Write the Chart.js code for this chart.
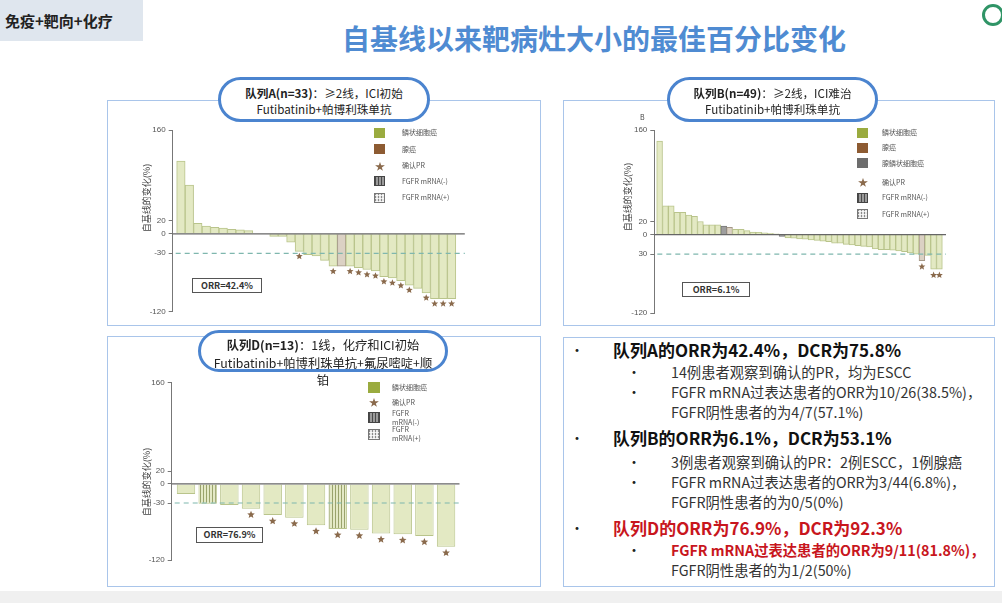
<!DOCTYPE html>
<html>
<head>
<meta charset="utf-8">
<script src="https://cdn.jsdelivr.net/npm/chart.js@4.4.1/dist/chart.umd.min.js"></script>
<style>
  body { margin: 0; width: 1002px; height: 603px; background: #fff; position: relative; overflow: hidden;
         font-family: "Noto Sans CJK SC", "Noto Sans", sans-serif; color: #222; }
  .abs { position: absolute; white-space: nowrap; }
  .tag { left: 0; top: 0; width: 143px; height: 41px; background: #dfe6ee; font-size: 15px; font-weight: bold;
         line-height: 41px; padding-left: 5px; box-sizing: border-box; }
  .title { left: 342px; top: 19px; font-size: 28px; font-weight: bold; color: #4f8bd2; line-height: 38px; }
  .panel { border: 1.5px solid #a9c5ea; box-sizing: border-box; background: #fff; }
  .pill { border: 3px solid #4b84cf; border-radius: 24px; background: #fff; box-sizing: border-box;
          text-align: center; font-size: 11.6px; line-height: 16px; color: #222; }
  .pill b { font-weight: bold; }
  .ylab { font-size: 9px; color: #444; width: 100px; text-align: center; transform: rotate(-90deg); line-height: 12px; }
  .lg { font-size: 7px; color: #555; line-height: 9px; }
  .sw { width: 11px; height: 10px; box-sizing: border-box; }
  .olive { background: #9aab3f; }
  .brown { background: #8d5b32; }
  .grey { background: #6d6d6d; }
  .neg { background: repeating-linear-gradient(90deg, #4a4a4a 0 1px, #9a9a9a 1px 3px); border: 1px solid #444; }
  .pos { background: repeating-linear-gradient(0deg, rgba(255,255,255,.75) 0 1px, transparent 1px 3px),
                     repeating-linear-gradient(90deg, #8a8a8a 0 1px, #e6e6e6 1px 3px); border: 1px solid #777; }
  .st { color: #8a6a4c; font-size: 10px; line-height: 10px; }
  .orr { border: 1px solid #555; font-size: 9px; font-weight: bold; color: #333; text-align: center; box-sizing: border-box; background: #fff; }
  .h { font-size: 17px; font-weight: bold; line-height: 22px; color: #111; }
  .s { font-size: 14.3px; line-height: 19px; color: #333; }
  .red { color: #c8161d; }
  .dot { font-size: 14px; line-height: 19px; color: #222; }
</style>
</head>
<body>

<div class="abs tag">免疫+靶向+化疗</div>
<div class="abs title">自基线以来靶病灶大小的最佳百分比变化</div>
<div class="abs" style="left:982px;top:4px;width:22px;height:22px;border-radius:50%;border:3px solid #2f9466;box-sizing:border-box;"></div>
<div class="abs" style="left:0;top:591px;width:1002px;height:12px;background:#f0f0f0;"></div>

<!-- panel frames -->
<div class="abs panel" style="left:107px;top:100px;width:434px;height:226px;"></div>
<div class="abs panel" style="left:563px;top:100px;width:432px;height:226px;"></div>
<div class="abs panel" style="left:107px;top:336px;width:434px;height:251px;"></div>
<div class="abs panel" style="left:563px;top:337px;width:432px;height:250px;"></div>

<canvas id="chartA" class="abs" width="355" height="198" style="left:120px;top:122px;"></canvas>
<canvas id="chartB" class="abs" width="360" height="202" style="left:600px;top:120px;"></canvas>
<canvas id="chartD" class="abs" width="350" height="198" style="left:120px;top:372px;"></canvas>

<!-- pills -->
<div class="abs pill" style="left:218px;top:77px;width:212px;height:45px;padding-top:5px;"><b>队列A(n=33)</b>：≥2线，ICI初始<br>Futibatinib+帕博利珠单抗</div>
<div class="abs pill" style="left:667px;top:77px;width:211px;height:45px;padding-top:5px;"><b>队列B(n=49)</b>：≥2线，ICI难治<br>Futibatinib+帕博利珠单抗</div>
<div class="abs pill" style="left:198px;top:330px;width:250px;height:42px;padding-top:4px;overflow:visible;line-height:17.5px;font-size:12.3px;"><b>队列D(n=13)</b>：1线，化疗和ICI初始<br>Futibatinib+帕博利珠单抗+氟尿嘧啶+顺<br>铂</div>

<!-- y labels -->
<div class="abs ylab" style="left:97px;top:192px;">自基线的变化(%)</div>
<div class="abs ylab" style="left:578px;top:191px;">自基线的变化(%)</div>
<div class="abs ylab" style="left:97px;top:476px;">自基线的变化(%)</div>
<div class="abs" style="left:640px;top:112px;font-size:7px;color:#444;">B</div>

<!-- legend A -->
<div class="abs sw olive" style="left:374px;top:128px;"></div><div class="abs lg" style="left:402px;top:128px;">鳞状细胞癌</div>
<div class="abs sw brown" style="left:374px;top:144px;"></div><div class="abs lg" style="left:402px;top:145px;">腺癌</div>
<div class="abs st" style="left:375px;top:161px;">★</div><div class="abs lg" style="left:402px;top:161px;">确认PR</div>
<div class="abs sw neg" style="left:374px;top:176px;"></div><div class="abs lg" style="left:402px;top:177px;">FGFR mRNA(-)</div>
<div class="abs sw pos" style="left:374px;top:193px;"></div><div class="abs lg" style="left:402px;top:193px;">FGFR mRNA(+)</div>

<!-- legend B -->
<div class="abs sw olive" style="left:857px;top:128px;"></div><div class="abs lg" style="left:882px;top:128px;">鳞状细胞癌</div>
<div class="abs sw brown" style="left:857px;top:143px;"></div><div class="abs lg" style="left:882px;top:143px;">腺癌</div>
<div class="abs sw grey" style="left:857px;top:158px;"></div><div class="abs lg" style="left:882px;top:159px;">腺鳞状细胞癌</div>
<div class="abs st" style="left:858px;top:177px;">★</div><div class="abs lg" style="left:882px;top:178px;">确认PR</div>
<div class="abs sw neg" style="left:857px;top:193px;"></div><div class="abs lg" style="left:882px;top:193px;">FGFR mRNA(-)</div>
<div class="abs sw pos" style="left:857px;top:209px;"></div><div class="abs lg" style="left:882px;top:210px;">FGFR mRNA(+)</div>

<!-- legend D -->
<div class="abs sw olive" style="left:368px;top:382px;width:12px;height:11px;"></div><div class="abs lg" style="left:392px;top:383px;">鳞状细胞癌</div>
<div class="abs st" style="left:369px;top:397px;">★</div><div class="abs lg" style="left:392px;top:398px;">确认PR</div>
<div class="abs sw neg" style="left:368px;top:412px;width:12px;height:11px;"></div><div class="abs lg" style="left:392px;top:409px;">FGFR<br>mRNA(-)</div>
<div class="abs sw pos" style="left:368px;top:429px;width:12px;height:11px;"></div><div class="abs lg" style="left:392px;top:425px;">FGFR<br>mRNA(+)</div>

<!-- ORR boxes -->
<div class="abs orr" style="left:192px;top:278px;width:70px;height:15px;line-height:13px;">ORR=42.4%</div>
<div class="abs orr" style="left:682px;top:282px;width:68px;height:15px;line-height:13px;">ORR=6.1%</div>
<div class="abs orr" style="left:196px;top:527px;width:67px;height:16px;line-height:14px;">ORR=76.9%</div>

<!-- summary text -->
<div class="abs dot" style="left:570px;top:340px;">•</div>
<div class="abs h" style="left:613px;top:339px;">队列A的ORR为42.4%，DCR为75.8%</div>
<div class="abs dot" style="left:627px;top:362px;">•</div>
<div class="abs s" style="left:671px;top:362px;">14例患者观察到确认的PR，均为ESCC</div>
<div class="abs dot" style="left:627px;top:382px;">•</div>
<div class="abs s" style="left:671px;top:382px;">FGFR mRNA过表达患者的ORR为10/26(38.5%)，</div>
<div class="abs s" style="left:671px;top:402px;">FGFR阴性患者的为4/7(57.1%)</div>

<div class="abs dot" style="left:570px;top:428px;">•</div>
<div class="abs h" style="left:613px;top:427px;">队列B的ORR为6.1%，DCR为53.1%</div>
<div class="abs dot" style="left:627px;top:452px;">•</div>
<div class="abs s" style="left:671px;top:452px;">3例患者观察到确认的PR：2例ESCC，1例腺癌</div>
<div class="abs dot" style="left:627px;top:472px;">•</div>
<div class="abs s" style="left:671px;top:472px;">FGFR mRNA过表达患者的ORR为3/44(6.8%)，</div>
<div class="abs s" style="left:671px;top:492px;">FGFR阴性患者的为0/5(0%)</div>

<div class="abs dot red" style="left:570px;top:518px;">•</div>
<div class="abs h red" style="left:613px;top:517px;">队列D的ORR为76.9%，DCR为92.3%</div>
<div class="abs dot red" style="left:627px;top:540px;">•</div>
<div class="abs s red" style="left:671px;top:540px;font-weight:bold;">FGFR mRNA过表达患者的ORR为9/11(81.8%)，</div>
<div class="abs s" style="left:671px;top:560px;">FGFR阴性患者的为1/2(50%)</div>

<script>
// Waterfall plots: best % change from baseline, one bar per patient

// ── Data ──────────────────────────────────────────────────
const valuesA = [112, 75, 16, 12, 10, 9, 7, 6, 5, 0, 0, -4, -4, -13, -27, -32, -34, -41, -50, -50,
                 -50, -52, -55, -57, -66, -68, -72, -79, -84, -91, -100, -100, -100];
const histA = valuesA.map((v, i) => i === 19 ? 'A' : 'S');   // S=鳞癌, A=腺癌
const fgfrNegA = [];
const prA = [14, 18, 20, 21, 22, 23, 24, 25, 26, 27, 29, 30, 31, 32];

const valuesB = [143, 44, 44, 34, 34, 30, 28, 20, 15, 15, 15, 13, 11, 8, 8, 6, 4, 3.5, 2.5, 2,
                 1, -3, -5, -5.5, -6.5, -7, -8, -9, -10, -11, -13, -13, -15, -16, -17, -18, -19, -22, -23, -23,
                 -24, -25, -26, -28, -30, -40, -32, -53, -53];
const histB = valuesB.map((v, i) => (i === 11 || i === 21) ? 'AS' : (i === 12 || i === 45) ? 'A' : 'S');
const fgfrNegB = [];
const prB = [45, 47, 48];

const valuesD = [-16, -31, -33, -39, -49, -53, -65, -71, -72, -78, -79, -82, -99];
const histD = valuesD.map(() => 'S');
const fgfrNegD = [1, 7];
const prD = [3, 4, 5, 6, 7, 8, 9, 10, 11, 12];

const tickValues = [160, 20, 0, -30, -120];
const tickLabelsA = ['160', '20', '0', '-30', '-120'];
const tickLabelsB = ['160', '20', '0', '30', '-120'];
const tickLabelsD = ['160', '20', '0', '-30', '-120'];

// ── Helpers ───────────────────────────────────────────────

function stripes(ctx, bg, line, step) {
  const c = document.createElement('canvas');
  c.width = step; c.height = 4;
  const g = c.getContext('2d');
  g.fillStyle = bg; g.fillRect(0, 0, step, 4);
  g.fillStyle = line; g.fillRect(step - 1, 0, 1, 4);
  return ctx.createPattern(c, 'repeat');
}

function star(ctx, x, y, r) {
  ctx.beginPath();
  for (let i = 0; i < 10; i++) {
    const rad = i % 2 ? r * 0.45 : r;
    const ang = -Math.PI / 2 + i * Math.PI / 5;
    ctx.lineTo(x + rad * Math.cos(ang), y + rad * Math.sin(ang));
  }
  ctx.closePath();
  ctx.fillStyle = '#8a6a4c';
  ctx.fill();
}

// zero line, -30% dashed threshold, PR stars
const overlay = {
  id: 'overlay',
  afterDatasetsDraw(chart, args, opts) {
    const { ctx, chartArea: a, scales: { y } } = chart;
    const y0 = y.getPixelForValue(0);
    const y30 = y.getPixelForValue(-30);
    ctx.save();
    ctx.strokeStyle = '#7fb7ae';
    ctx.lineWidth = 1.2;
    ctx.setLineDash([5, 4]);
    ctx.beginPath(); ctx.moveTo(a.left + 3, y30); ctx.lineTo(a.right, y30); ctx.stroke();
    ctx.setLineDash([]);
    ctx.strokeStyle = '#666';
    ctx.lineWidth = 1.3;
    ctx.beginPath(); ctx.moveTo(a.left, y0); ctx.lineTo(a.right, y0); ctx.stroke();
    const meta = chart.getDatasetMeta(0);
    opts.pr.forEach(i => {
      const el = meta.data[i];
      star(ctx, el.x, el.y + opts.gap, opts.r);
    });
    ctx.restore();
  },
};

function waterfall(id, values, hist, fgfrNeg, pr, tickLabels, cfg) {
  const canvas = document.getElementById(id);
  const ctx = canvas.getContext('2d');
  const fillS = '#e3e9c3';
  const fillNeg = stripes(ctx, '#e4e9c6', '#9aa36c', 3);
  const fillA = '#dbd1c4';
  const fillAS = '#9e9e9e';

  const bg = values.map((v, i) => {
    if (hist[i] === 'A') return fillA;
    if (hist[i] === 'AS') return fillAS;
    return fgfrNeg.includes(i) ? fillNeg : fillS;
  });
  const border = values.map((v, i) =>
    hist[i] === 'A' ? '#a59888' : hist[i] === 'AS' ? '#777' : '#b9c48b');

  return new Chart(canvas, {
    type: 'bar',
    data: {
      datasets: [{
        data: values.map((v, i) => ({ x: i, y: v })),
        backgroundColor: bg,
        borderColor: border,
        borderWidth: 1,
        barPercentage: cfg.barPct,
        categoryPercentage: 1,
      }],
    },
    options: {
      responsive: false,
      animation: false,
      layout: { padding: cfg.pad },
      plugins: {
        legend: { display: false },
        tooltip: { enabled: false },
        overlay: { pr: pr, gap: cfg.starGap, r: cfg.starR },
      },
      scales: {
        x: { type: 'linear', display: false, offset: false, min: cfg.xMin, max: cfg.xMax },
        y: {
          min: -120, max: 160,
          afterBuildTicks: s => { s.ticks = tickValues.map(v => ({ value: v })); },
          afterFit: s => { s.width = cfg.yWidth; },
          ticks: {
            callback: (v, i) => tickLabels[i],
            font: { family: 'Liberation Sans', size: 8 },
            color: '#555',
            padding: 3,
          },
          grid: { drawOnChartArea: false, drawTicks: true, tickLength: 4, color: '#777' },
          border: { display: true, color: '#777', width: 1 },
        },
      },
    },
    plugins: [overlay],
  });
}

// ── Init ──────────────────────────────────────────────────

waterfall('chartA', valuesA, histA, fgfrNegA, prA, tickLabelsA, {
  xMin: -0.97, xMax: 33.56, barPct: 1, yWidth: 52.7,
  pad: { top: 8, bottom: 8.3, right: 10.2, left: 0 }, starGap: 5, starR: 3.6,
});
waterfall('chartB', valuesB, histB, fgfrNegB, prB, tickLabelsB, {
  xMin: -0.91, xMax: 49.13, barPct: 1, yWidth: 54.3,
  pad: { top: 10, bottom: 9, right: 14, left: 0 }, starGap: 6, starR: 3.6,
});
waterfall('chartD', valuesD, histD, fgfrNegD, prD, tickLabelsD, {
  xMin: -0.66, xMax: 12.62, barPct: 0.85, yWidth: 51.7,
  pad: { top: 10.3, bottom: 9.8, right: 10.5, left: 0 }, starGap: 6, starR: 4,
});
</script>
</body>
</html>
